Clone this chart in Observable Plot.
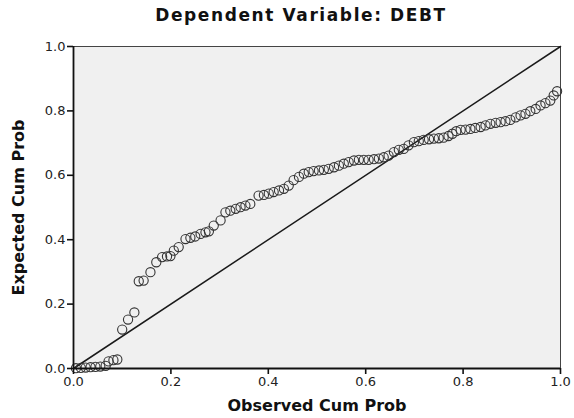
<!DOCTYPE html>
<html>
<head>
<meta charset="utf-8">
<script src="https://cdn.jsdelivr.net/npm/d3@7"></script>
<script src="https://cdn.jsdelivr.net/npm/@observablehq/plot@0.6"></script>
<style>
html, body { margin: 0; padding: 0; background: #ffffff; }
#chart { width: 574px; height: 418px; }
</style>
</head>
<body>
<div id="chart"></div>
<script>
const title = "Dependent Variable: DEBT";
const xLabel = "Observed Cum Prob";
const yLabel = "Expected Cum Prob";
const ticks = [0, 0.2, 0.4, 0.6, 0.8, 1.0];

const observed = [
  0.005, 0.015, 0.025, 0.035, 0.045, 0.055, 0.066, 0.072, 0.082, 0.090,
  0.100, 0.112, 0.125, 0.134, 0.144, 0.158, 0.170, 0.182, 0.192, 0.199,
  0.206, 0.216, 0.230, 0.240, 0.250, 0.261, 0.271, 0.278, 0.288, 0.302,
  0.312, 0.322, 0.333, 0.343, 0.353, 0.363, 0.380, 0.391, 0.401, 0.411,
  0.422, 0.432, 0.442, 0.452, 0.463, 0.473, 0.483, 0.493, 0.504, 0.514,
  0.524, 0.535, 0.545, 0.555, 0.565, 0.576, 0.586, 0.596, 0.606, 0.617,
  0.627, 0.637, 0.647, 0.658, 0.668, 0.678, 0.688, 0.699, 0.709, 0.719,
  0.730, 0.740, 0.750, 0.760, 0.770, 0.778, 0.786, 0.795, 0.805, 0.815,
  0.825, 0.836, 0.846, 0.856, 0.867, 0.877, 0.887, 0.897, 0.908, 0.918,
  0.928, 0.938, 0.949, 0.959, 0.969, 0.979, 0.986, 0.993
];
const expected = [
  0.001, 0.002, 0.003, 0.004, 0.005, 0.006, 0.008, 0.022, 0.026, 0.028,
  0.121, 0.152, 0.174, 0.271, 0.273, 0.299, 0.330, 0.346, 0.348, 0.349,
  0.366, 0.377, 0.402, 0.406, 0.410, 0.418, 0.423, 0.426, 0.444, 0.460,
  0.485, 0.490, 0.496, 0.501, 0.506, 0.511, 0.537, 0.539, 0.543, 0.548,
  0.553, 0.558, 0.568, 0.585, 0.595, 0.605, 0.610, 0.613, 0.615, 0.617,
  0.620, 0.625, 0.630, 0.636, 0.641, 0.646, 0.648, 0.648, 0.648, 0.650,
  0.652, 0.656, 0.661, 0.672, 0.679, 0.682, 0.693, 0.703, 0.706, 0.710,
  0.712, 0.714, 0.715, 0.717, 0.722, 0.729, 0.737, 0.741, 0.742, 0.744,
  0.747, 0.750, 0.755, 0.760, 0.763, 0.765, 0.768, 0.772, 0.780, 0.786,
  0.791, 0.799, 0.806, 0.817, 0.824, 0.832, 0.848, 0.861
];
const diagonal = [0, 1];

const points = observed.map((o, i) => ({obs: o, exp: expected[i]}));
const diagData = diagonal.map(v => ({x: v, y: v}));
const fmt = d => d.toFixed(1);

const chart = Plot.plot({
  width: 574,
  height: 418,
  marginTop: 46,
  marginBottom: 50,
  marginLeft: 73,
  marginRight: 14,
  style: {fontFamily: "'DejaVu Sans', sans-serif", fontSize: "13px", background: "#ffffff", color: "#222"},
  x: {domain: [0, 1], ticks: ticks, tickFormat: fmt, label: null},
  y: {domain: [0, 1], ticks: ticks, tickFormat: fmt, label: null},
  marks: [
    Plot.frame({fill: "#f0f0f0", stroke: "#444", strokeWidth: 1}),
    Plot.line(diagData, {x: "x", y: "y", stroke: "#1a1a1a", strokeWidth: 1.5}),
    Plot.dot(points, {x: "obs", y: "exp", r: 4.6, stroke: "#333", strokeWidth: 1.1, fill: "none"}),
    Plot.axisX({ticks: ticks, tickFormat: fmt, tickSize: 6, tickPadding: 2, stroke: "#111", strokeWidth: 1.6, fill: "#222", fontSize: 13, label: null}),
    Plot.axisY({ticks: ticks, tickFormat: fmt, tickSize: 6, tickPadding: 2, stroke: "#111", strokeWidth: 1.6, fill: "#222", fontSize: 13, label: null}),
    Plot.ruleX([0], {stroke: "#111", strokeWidth: 1.8}),
    Plot.ruleY([0], {stroke: "#111", strokeWidth: 1.8}),
    Plot.text([title], {frameAnchor: "top", dx: -16, dy: -31, text: d => d, fontWeight: "bold", fontSize: 17, fill: "#111", lineAnchor: "middle", className: "chart-title"}),
    Plot.text([xLabel], {frameAnchor: "bottom", dy: 37, text: d => d, fontWeight: "bold", fontSize: 16, fill: "#111", lineAnchor: "middle"}),
    Plot.text([yLabel], {frameAnchor: "left", dx: -55, rotate: -90, textAnchor: "middle", text: d => d, fontWeight: "bold", fontSize: 16, fill: "#111", lineAnchor: "middle"})
  ]
});
d3.select(chart).selectAll("text")
  .filter(function () { return this.textContent === title; })
  .style("letter-spacing", "1.6px");
document.getElementById("chart").appendChild(chart);
</script>
</body>
</html>
